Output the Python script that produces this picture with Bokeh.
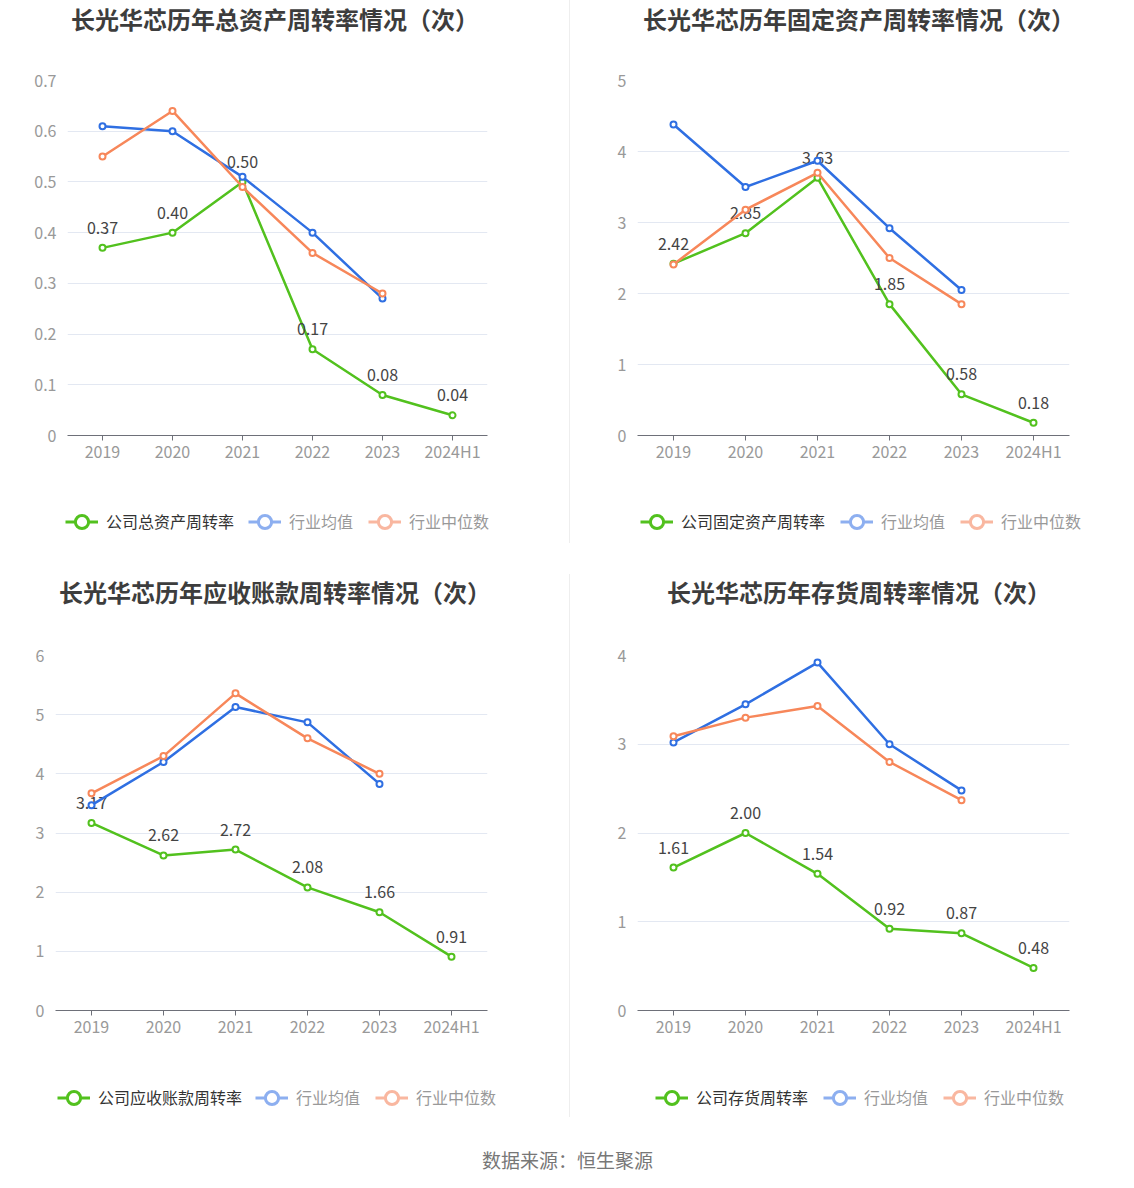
from bokeh.plotting import figure
from bokeh.models import (FactorRange, Range1d, ColumnDataSource, Label, Legend,
                          LegendItem, FixedTicker, Div)
from bokeh.layouts import column, row
from bokeh.embed import file_html
from bokeh.resources import INLINE
from bokeh.core.properties import value

# ---------------- data ----------------
years = ["2019", "2020", "2021", "2022", "2023", "2024H1"]
years_ind = ["2019", "2020", "2021", "2022", "2023"]

total_company = [0.37, 0.40, 0.50, 0.17, 0.08, 0.04]
total_mean = [0.61, 0.60, 0.51, 0.40, 0.27]
total_median = [0.55, 0.64, 0.49, 0.36, 0.28]

fixed_company = [2.42, 2.85, 3.63, 1.85, 0.58, 0.18]
fixed_mean = [4.38, 3.50, 3.87, 2.92, 2.05]
fixed_median = [2.41, 3.18, 3.70, 2.50, 1.85]

recv_company = [3.17, 2.62, 2.72, 2.08, 1.66, 0.91]
recv_mean = [3.47, 4.20, 5.13, 4.87, 3.83]
recv_median = [3.67, 4.30, 5.36, 4.60, 4.00]

inv_company = [1.61, 2.00, 1.54, 0.92, 0.87, 0.48]
inv_mean = [3.02, 3.45, 3.92, 3.00, 2.48]
inv_median = [3.09, 3.30, 3.43, 2.80, 2.37]

titles = ["长光华芯历年总资产周转率情况（次）", "长光华芯历年固定资产周转率情况（次）",
          "长光华芯历年应收账款周转率情况（次）", "长光华芯历年存货周转率情况（次）"]
company_names = ["公司总资产周转率", "公司固定资产周转率", "公司应收账款周转率", "公司存货周转率"]
mean_name = "行业均值"
median_name = "行业中位数"
source_text = "数据来源：恒生聚源"

FONT = "Noto Sans CJK SC"
GREEN = "#52c11e"
BLUE = "#2f6fe2"
ORANGE = "#f7875a"
GREEN_L = "#52c11e"
BLUE_L = "#8daff0"
ORANGE_L = "#f9b7a0"
SEP = "#eeeeee"


def blank(width, height):
    f = figure(width=width, height=height, x_range=Range1d(0, width),
               y_range=Range1d(0, height), output_backend="svg", toolbar_location=None,
               min_border=0, x_axis_location=None, y_axis_location=None, title=None)
    f.outline_line_color = None
    f.xgrid.grid_line_color = None
    f.ygrid.grid_line_color = None
    return f


def sep(height, top=0):
    return Div(text="", width=1, height=height, margin=(top, 0, 0, 0),
               styles={"background-color": SEP})


def title_fig(title, width, height, tx, ty):
    ft = blank(width, height)
    ft.add_layout(Label(x=tx, y=ty, x_units="screen", y_units="screen",
                        text=title, text_font=FONT, text_font_size="24px",
                        text_font_style="bold", text_color="#3d3d3d",
                        text_align="center", text_baseline="middle"))
    return ft


def chart_fig(comp, mean, median, ymax, step, width, height, left, top, bottom, frame_w,
              zero_override=False):
    right = width - left - frame_w
    p = figure(width=width, height=height, x_range=FactorRange(*years, range_padding=0),
               y_range=Range1d(0, ymax), output_backend="svg", toolbar_location=None,
               min_border_left=left, min_border_right=right, min_border_top=top,
               min_border_bottom=bottom, title=None)
    p.outline_line_color = None
    p.background_fill_color = "white"
    p.border_fill_color = "white"
    p.xgrid.grid_line_color = None
    p.ygrid.grid_line_color = "#e3e8f2"
    p.ygrid.grid_line_width = 1
    nt = int(round(ymax / step))
    p.yaxis.ticker = FixedTicker(ticks=[round(i * step, 6) for i in range(nt + 1)])
    p.yaxis.axis_line_color = None
    p.yaxis.major_tick_line_color = None
    p.yaxis.minor_tick_line_color = None
    p.yaxis.major_label_standoff = 11
    p.yaxis.major_tick_out = 0
    p.yaxis.major_tick_in = 0
    if zero_override:
        p.yaxis.major_label_overrides = {0: "0"}
    for ax in (p.xaxis, p.yaxis):
        ax.major_label_text_font = FONT
        ax.major_label_text_font_size = "16px"
        ax.major_label_text_color = "#999999"
    p.xaxis.axis_line_color = "#6e7079"
    p.xaxis.major_tick_line_color = "#6e7079"
    p.xaxis.major_tick_out = 5
    p.xaxis.major_tick_in = 0
    p.xaxis.major_label_standoff = -2
    p.xaxis.minor_tick_line_color = None

    src_c = ColumnDataSource(dict(x=years, y=comp, t=[f"{v:.2f}" for v in comp]))
    src_m = ColumnDataSource(dict(x=years_ind, y=mean))
    src_d = ColumnDataSource(dict(x=years_ind, y=median))

    p.line("x", "y", source=src_c, line_color=GREEN, line_width=2.5)
    p.scatter("x", "y", source=src_c, marker="circle", size=6, line_color=GREEN,
              line_width=2, fill_color="white")
    p.text("x", "y", text="t", source=src_c, text_align="center",
           text_baseline="alphabetic", y_offset=-20, text_font=value(FONT),
           text_font_size="16px", text_color="#444444")
    p.line("x", "y", source=src_m, line_color=BLUE, line_width=2.5)
    p.scatter("x", "y", source=src_m, marker="circle", size=6, line_color=BLUE,
              line_width=2, fill_color="white")
    p.line("x", "y", source=src_d, line_color=ORANGE, line_width=2.5)
    p.scatter("x", "y", source=src_d, marker="circle", size=6, line_color=ORANGE,
              line_width=2, fill_color="white")
    return p


def legend_fig(cname, width, height, ax, bx, ly):
    fl = blank(width, height)

    def leg_r(color):
        s = ColumnDataSource(dict(x=[float("nan")], y=[float("nan")]))
        l = fl.line("x", "y", source=s, line_color=color, line_width=3)
        c = fl.scatter("x", "y", source=s, marker="circle", line_color=color,
                       line_width=3, fill_color="white")
        return [l, c]

    common = dict(orientation="horizontal", border_line_color=None,
                  background_fill_alpha=0, padding=0, margin=0, spacing=15,
                  glyph_width=33, glyph_height=35, label_standoff=8,
                  label_text_font=FONT, label_text_font_size="16px",
                  label_text_baseline="middle")
    legA = Legend(items=[LegendItem(label=cname, renderers=leg_r(GREEN_L))],
                  location=(ax, ly), label_text_color="#333333", **common)
    legB = Legend(items=[LegendItem(label=mean_name, renderers=leg_r(BLUE_L)),
                         LegendItem(label=median_name, renderers=leg_r(ORANGE_L))],
                  location=(bx, ly), label_text_color="#999999", **common)
    fl.add_layout(legA)
    fl.add_layout(legB)
    return fl


WL, WR = 569, 556

# top row: title 40 + chart 440 + legend 82 = 562
t1 = title_fig(titles[0], WL, 40, 274.5, 22.5)
t2 = title_fig(titles[1], WR, 40, 288.5, 22.5)
c1 = chart_fig(total_company, total_mean, total_median, 0.7, 0.1, WL, 440, 67, 40, 45, 420,
               zero_override=True)
c2 = chart_fig(fixed_company, fixed_mean, fixed_median, 5, 1, WR, 440, 67, 40, 45, 432)
l1 = legend_fig(company_names[0], WL, 82, 65, 248, 23.5)
l2 = legend_fig(company_names[1], WR, 82, 70, 270, 23.5)

# bottom row: title 56 + chart 437 + legend 75 = 568
t3 = title_fig(titles[2], WL, 56, 274.5, 27.5)
t4 = title_fig(titles[3], WR, 56, 288.5, 27.5)
c3 = chart_fig(recv_company, recv_mean, recv_median, 6, 1, WL, 437, 55, 37, 45, 432)
c4 = chart_fig(inv_company, inv_mean, inv_median, 4, 1, WR, 437, 67, 37, 45, 432)
l3 = legend_fig(company_names[2], WL, 75, 57, 255, 15.5)
l4 = legend_fig(company_names[3], WR, 75, 85, 253, 15.5)

fs = blank(1126, 54)
fs.add_layout(Label(x=567, y=25, x_units="screen", y_units="screen", text=source_text,
                    text_font=FONT, text_font_size="19px", text_color="#777777",
                    text_align="center", text_baseline="middle"))

layout = column(
    row(t1, sep(40), t2),
    row(c1, sep(440), c2),
    row(l1, sep(63), l2),
    row(t3, sep(44, 12), t4),
    row(c3, sep(437), c4),
    row(l3, sep(62), l4),
    fs,
)
open("out.html", "w").write(file_html(layout, INLINE))
